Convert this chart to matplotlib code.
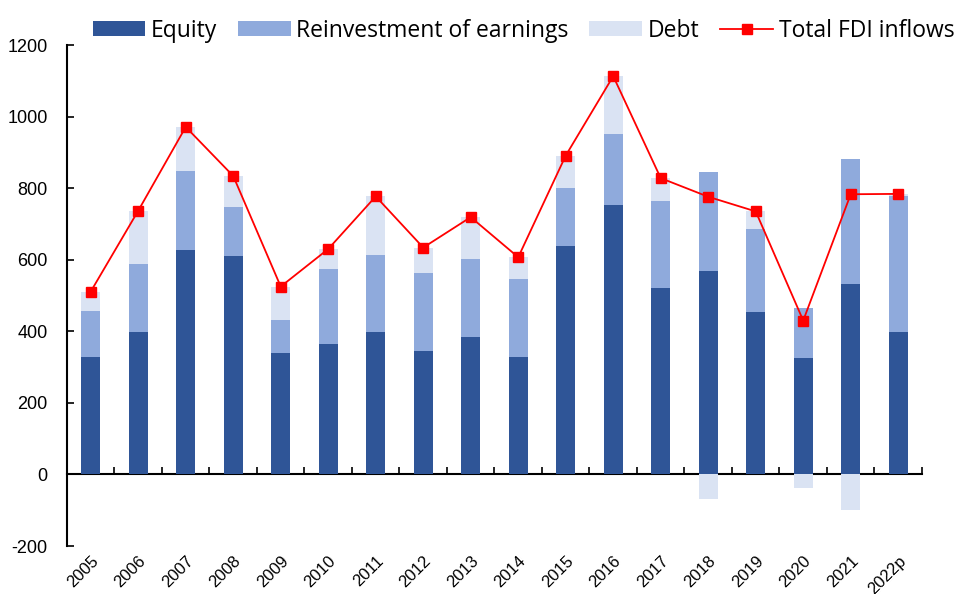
import numpy as np
import matplotlib.pyplot as plt
from matplotlib.ticker import FixedLocator

plt.rcParams['font.family'] = 'Liberation Sans'
plt.rcParams['axes.unicode_minus'] = False

years = ['2005', '2006', '2007', '2008', '2009', '2010', '2011', '2012', '2013',
         '2014', '2015', '2016', '2017', '2018', '2019', '2020', '2021', '2022p']
equity = [327, 398, 628, 611, 340, 364, 399, 346, 385,
          328, 639, 753, 522, 569, 454, 326, 533, 398]
reinvest = [131, 191, 220, 137, 92, 211, 215, 218, 217,
            219, 162, 199, 243, 277, 232, 140, 349, 379]
debt = [53, 148, 123, 86, 93, 56, 163, 69, 117,
        60, 89, 161, 63, -70, 49, -37, -100, 7]
total = [511, 737, 971, 834, 525, 630, 777, 634, 719,
         607, 891, 1113, 828, 776, 735, 430, 783, 784]

c_equity = '#2F5597'
c_reinv = '#8FAADC'
c_debt = '#DAE3F3'

x = np.arange(len(years))
equity = np.array(equity)
reinvest = np.array(reinvest)
debt = np.array(debt)
# negative debt hangs below zero, positive debt sits on top of the stack
debt_bottom = np.where(debt >= 0, equity + reinvest, 0)

fig = plt.figure(figsize=(9.57, 5.94), dpi=100)
ax = fig.add_axes([0.070, 0.0808, 0.8934, 0.8434])

w = 0.4
b1 = ax.bar(x, equity, w, color=c_equity, zorder=2)
b2 = ax.bar(x, reinvest, w, bottom=equity, color=c_reinv, zorder=2)
b3 = ax.bar(x, debt, w, bottom=debt_bottom, color=c_debt, zorder=2)
l1, = ax.plot(x, total, color='#FF0000', lw=1.3, marker='s', ms=6.5, zorder=4)

ax.set_xlim(-0.5, len(years) - 0.5)
ax.set_ylim(-200, 1200)
ax.set_yticks(range(-200, 1201, 200))
ax.tick_params(axis='y', direction='in', length=5, width=1.2, labelsize=13, pad=14)

for s in ['top', 'right', 'bottom']:
    ax.spines[s].set_visible(False)
ax.spines['left'].set_linewidth(1.5)

# category labels at the bottom of the plot
ax.set_xticks(x)
ax.set_xticklabels(years, rotation=45, ha='right', va='top', rotation_mode='anchor', fontsize=12)
ax.tick_params(axis='x', length=0, pad=5)

# zero line with ticks between categories
zero_ax = ax.secondary_xaxis(200 / 1400)
zero_ax.xaxis.set_major_locator(FixedLocator(np.arange(-0.5, len(years), 1.0)))
zero_ax.tick_params(axis='x', direction='in', length=5, width=1.2, labelbottom=False)
zero_ax.spines['bottom'].set_linewidth(1.5)

fig.legend([b1, b2, b3, l1], ['Equity', 'Reinvestment of earnings', 'Debt', 'Total FDI inflows'],
           loc='upper center', bbox_to_anchor=(0.547, 1.003), ncol=4, frameon=False,
           prop={'family': 'Open Sans', 'size': 16.5}, handlelength=2.3, handleheight=0.65,
           handletextpad=0.25, columnspacing=0.9)

fig.savefig('out.png', dpi=100)
